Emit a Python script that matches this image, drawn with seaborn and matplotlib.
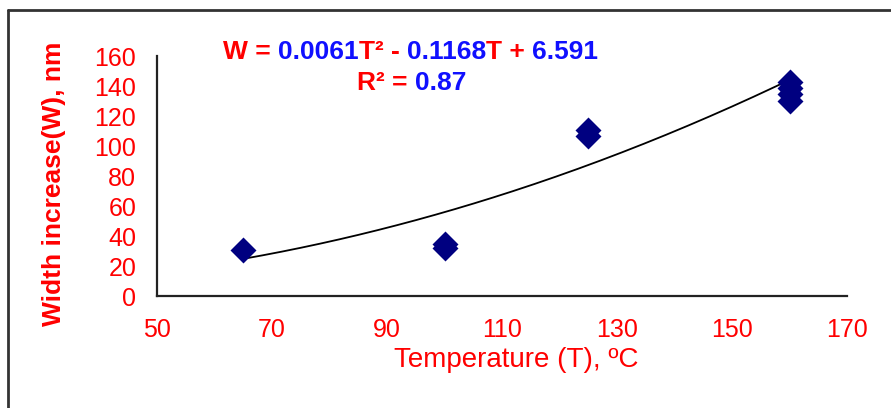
import numpy as np
import pandas as pd
import matplotlib
matplotlib.use("Agg")
import matplotlib.pyplot as plt
import seaborn as sns
from matplotlib.lines import Line2D

# ---- data ----
temperature = [65, 100, 100, 125, 125, 160, 160, 160, 160]
width_increase = [31, 32, 35, 107, 111, 130, 135, 139, 143]
coef_a, coef_b, coef_c = 0.0061, -0.1168, 6.591
r_squared = 0.87
fit_T = np.linspace(65, 160, 200)
x_ticks = [50, 70, 90, 110, 130, 150, 170]
y_ticks = [0, 20, 40, 60, 80, 100, 120, 140, 160]

RED = "#FF0000"
BLUE = "#1010FF"
NAVY = "#000080"

sns.set_theme(style="white")
plt.rcParams["font.family"] = ["Liberation Sans", "DejaVu Sans"]

fig = plt.figure(figsize=(8.91, 4.08), dpi=100)
W, H = 891, 408
ax = fig.add_axes([157 / W, 1 - 296 / H, (847 - 157) / W, (296 - 56) / H])

df = pd.DataFrame({"T": temperature, "W": width_increase})
fit_df = pd.DataFrame({"T": fit_T, "W": coef_a * fit_T ** 2 + coef_b * fit_T + coef_c})

sns.lineplot(data=fit_df, x="T", y="W", ax=ax, color="black", lw=1.3, zorder=2)
sns.scatterplot(data=df, x="T", y="W", ax=ax, marker="D", s=175, color=NAVY,
                edgecolor=NAVY, linewidth=0, zorder=3)

ax.set_xlim(50, 170)
ax.set_ylim(0, 160)
ax.set_xticks(x_ticks)
ax.set_yticks(y_ticks)
ax.set_xticklabels([str(v) for v in x_ticks])
ax.set_yticklabels([str(v) for v in y_ticks])
for s in ["top", "right"]:
    ax.spines[s].set_visible(False)
for s in ["left", "bottom"]:
    ax.spines[s].set_color("#222222")
    ax.spines[s].set_linewidth(1.6)
ax.tick_params(axis="both", which="major", direction="out", length=6, width=1.4,
               color="#222222", labelcolor=RED, labelsize=18)
ax.tick_params(axis="y", pad=9)
ax.tick_params(axis="x", pad=10)
ax.set_xlabel("Temperature (T), ºC", color=RED, fontsize=20)
ax.xaxis.label.set_va("center")
ax.xaxis.set_label_coords((516 - 157) / (847 - 157), -(360 - 296) / 240)
ax.set_ylabel("Width increase(W), nm", color=RED, fontsize=19, fontweight="bold")
ax.yaxis.label.set_va("center")
ax.yaxis.set_label_coords((54 - 157) / 690, (296 - 184) / 240)

# figure frame (top and left edges)
fig.add_artist(Line2D([8 / W, 8 / W], [0, 1 - 10 / H], transform=fig.transFigure,
                      color="#333333", lw=2))
fig.add_artist(Line2D([8 / W, 1], [1 - 10 / H, 1 - 10 / H], transform=fig.transFigure,
                      color="#333333", lw=2))

# multi-coloured equation text
fig.canvas.draw()
renderer = fig.canvas.get_renderer()


def colored_line(pieces, x_px, y_px, size=19):
    x = x_px
    for txt, col in pieces:
        t = fig.text(x / W, 1 - y_px / H, txt, color=col, fontsize=size,
                     fontweight="bold", va="center", ha="left")
        bb = t.get_window_extent(renderer=renderer)
        x += bb.width


colored_line([("W = ", RED), (f"{coef_a}", BLUE), ("T² - ", RED),
              (f"{-coef_b}", BLUE), ("T + ", RED), (f"{coef_c}", BLUE)], 223, 52)
colored_line([("R² = ", RED), (f"{r_squared}", BLUE)], 357, 83)

fig.savefig("out.png", dpi=100)
